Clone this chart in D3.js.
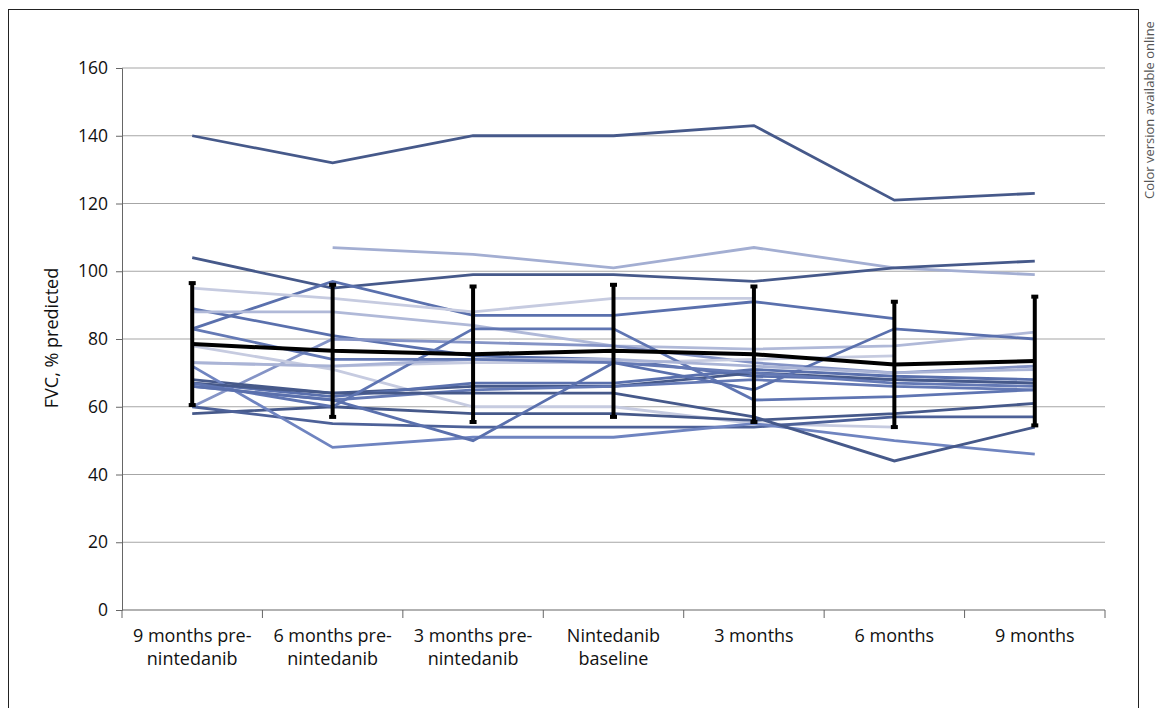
<!DOCTYPE html>
<html lang="en">
<head>
<meta charset="UTF-8">
<title>FVC % predicted</title>
<script src="https://d3js.org/d3.v7.min.js"></script>
<style>
  body { margin: 0; background: #fff; }
  svg { display: block; font-family: 'Open Sans', sans-serif; }
  .tick-label { font-size: 17.5px; fill: #111; }
  .cat-label { font-size: 18px; fill: #111; }
</style>
</head>
<body>
<svg width="1159" height="708"></svg>
<script>
const categories = [
  ["9 months pre-", "nintedanib"],
  ["6 months pre-", "nintedanib"],
  ["3 months pre-", "nintedanib"],
  ["Nintedanib", "baseline"],
  ["3 months"],
  ["6 months"],
  ["9 months"]
];
const yTicks = [0, 20, 40, 60, 80, 100, 120, 140, 160];

// individual patients
const patients = [
  [140, 132, 140, 140, 143, 121, 123],
  [null, 107, 105, 101, 107, 101, 99],
  [104, 95, 99, 99, 97, 101, 103],
  [83, 97, 87, 87, 91, 86, null],
  [89, 81, 75, 74, 69, 68, 67],
  [95, 92, 88, 92, 92, null, null],
  [88, 88, 84, 78, 77, 78, 82],
  [60, 80, 79, 78, 73, 70, 72],
  [73, 72, 73, 73, 74, 75, null],
  [78, 71, 60, 60, 55, 54, null],
  [68, 64, 66, 66, 70, 68, 67],
  [67, 63, 67, 67, 71, 69, 68],
  [66, 62, 65, 66, 68, 66, 65],
  [58, 60, 58, 58, 56, 58, 61],
  [60, 55, 54, 54, 54, 57, 57],
  [72, 48, 51, 51, 55, 50, 46],
  [67, 64, 64, 64, 57, 44, 54],
  [67, 60, 83, 83, 62, 63, 65],
  [66, 62, 50, 73, 65, 83, 80],
  [73, 72, 74, 74, 72, 70, 71],
  [83, 74, 74, 73, 70, 67, 66]
];
const patientColors = [
  "#46598a", "#a3aed2", "#46598a", "#5a70ad", "#5a70ad", "#c6cbe0", "#b0b9d8",
  "#8594c6", "#c6cbe0", "#c6cbe0", "#46598a", "#5a70ad", "#6479b5", "#46598a",
  "#4d6198", "#6f84c0", "#46598a", "#5f75b2", "#5a70ad", "#aab4d6", "#6479b5"
];

const meanValues = [78.5, 76.5, 75.5, 76.5, 75.5, 72.5, 73.5];
const sdValues = [18, 19.5, 20, 19.5, 20, 18.5, 19];

const svg = d3.select("svg");
const plotLeft = 122, plotRight = 1105, plotTop = 68, plotBottom = 610;

const x = d3.scalePoint()
  .domain(d3.range(categories.length))
  .range([plotLeft, plotRight])
  .padding(0.5);
const step = x.step();

const y = d3.scaleLinear().domain([0, 160]).range([plotBottom, plotTop]);

// outer frame
svg.append("rect")
  .attr("x", 8.5).attr("y", 9.5)
  .attr("width", 1130).attr("height", 720)
  .attr("fill", "none").attr("stroke", "#222").attr("stroke-width", 1);

svg.append("text")
  .attr("transform", "translate(1154,110) rotate(-90)")
  .attr("text-anchor", "middle")
  .attr("font-size", 13)
  .attr("fill", "#555")
  .text("Color version available online");

// gridlines
svg.append("g").selectAll("line")
  .data(yTicks.filter(d => d > 0))
  .enter().append("line")
  .attr("x1", plotLeft).attr("x2", plotRight)
  .attr("y1", d => y(d)).attr("y2", d => y(d))
  .attr("stroke", "#a6a6a6").attr("stroke-width", 1.2);

// y axis
const yAxis = svg.append("g")
  .attr("transform", `translate(${plotLeft},0)`)
  .call(d3.axisLeft(y).tickValues(yTicks).tickSize(6).tickPadding(8));
yAxis.attr("font-family", null).attr("font-size", null);
yAxis.select(".domain").attr("stroke", "#666");
yAxis.selectAll(".tick line").attr("stroke", "#666");
yAxis.selectAll(".tick text").attr("class", "tick-label");

svg.append("text")
  .attr("transform", "translate(58,338) rotate(-90)")
  .attr("text-anchor", "middle")
  .attr("font-size", 18)
  .attr("fill", "#111")
  .text("FVC, % predicted");

// x axis
svg.append("line")
  .attr("x1", plotLeft).attr("x2", plotRight)
  .attr("y1", plotBottom).attr("y2", plotBottom)
  .attr("stroke", "#666").attr("stroke-width", 1.2);
svg.append("g").selectAll("line")
  .data(d3.range(categories.length + 1))
  .enter().append("line")
  .attr("x1", i => plotLeft + i * step).attr("x2", i => plotLeft + i * step)
  .attr("y1", plotBottom).attr("y2", plotBottom + 8)
  .attr("stroke", "#666");

const xl = svg.append("g").selectAll("text")
  .data(categories)
  .enter().append("text")
  .attr("class", "cat-label")
  .attr("text-anchor", "middle")
  .attr("x", (d, i) => x(i))
  .attr("y", plotBottom + 32);
xl.selectAll("tspan")
  .data(d => d)
  .enter().append("tspan")
  .attr("x", function() { return d3.select(this.parentNode).attr("x"); })
  .attr("dy", (d, i) => i === 0 ? 0 : 23)
  .text(d => d);

// patient lines
const line = d3.line()
  .defined(d => d != null)
  .x((d, i) => x(i))
  .y(d => y(d));

svg.append("g").selectAll("path")
  .data(patients)
  .enter().append("path")
  .attr("d", line)
  .attr("fill", "none")
  .attr("stroke", (d, i) => patientColors[i])
  .attr("stroke-width", 2.8);

// error bars
const eb = svg.append("g").selectAll("g")
  .data(meanValues)
  .enter().append("g");
eb.append("line")
  .attr("x1", (d, i) => x(i)).attr("x2", (d, i) => x(i))
  .attr("y1", (d, i) => y(d + sdValues[i]))
  .attr("y2", (d, i) => y(d - sdValues[i]))
  .attr("stroke", "#000").attr("stroke-width", 4);
eb.append("rect")
  .attr("x", (d, i) => x(i) - 3.5)
  .attr("y", (d, i) => y(d + sdValues[i]) - 2)
  .attr("width", 7).attr("height", 4).attr("fill", "#000");
eb.append("rect")
  .attr("x", (d, i) => x(i) - 3.5)
  .attr("y", (d, i) => y(d - sdValues[i]) - 2)
  .attr("width", 7).attr("height", 4).attr("fill", "#000");

// mean line
svg.append("path")
  .datum(meanValues)
  .attr("d", line)
  .attr("fill", "none")
  .attr("stroke", "#000")
  .attr("stroke-width", 4);
</script>
</body>
</html>
